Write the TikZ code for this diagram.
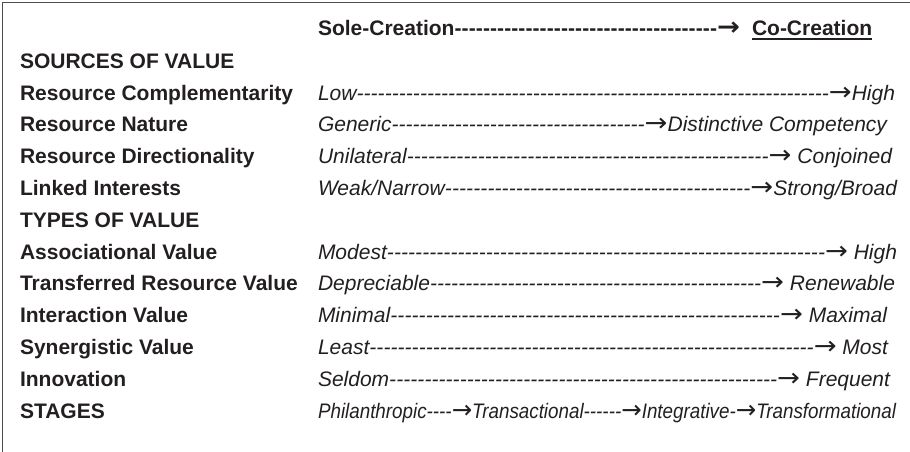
\documentclass[tikz,border=0pt]{standalone}
\usepackage{fontspec}
\usepackage{graphicx}
\setmainfont{Liberation Sans}[Ligatures=TeXOff]
\newfontfamily\arrowfont{DejaVu Sans}
\definecolor{ink}{HTML}{231F20}
\newcommand{\arw}{\scalebox{1.3}[1.2]{\arrowfont\symbol{"2192}}}
\newcommand{\valrow}[4]{\hbox to #1{\itshape #2\xleaders\hbox{-}\hfill\arw#3#4}}
\begin{document}
\begin{tikzpicture}[x=1pt,y=-1pt,
  every node/.style={inner sep=0pt, outer sep=0pt, anchor=base west, text=ink,
    font=\fontsize{21}{25}\selectfont},
  lab/.style={font=\fontsize{21}{25}\selectfont\bfseries},
  val/.style={font=\fontsize{21}{25}\selectfont\itshape},
  frameline/.style={line width=1.2pt, draw=ink!80},
  uline/.style={line width=1.4pt, draw=ink}]
\useasboundingbox (0,0) rectangle (910,452);
\draw[frameline] (2.5,452) -- (2.5,2.5) -- (910,2.5);
% header
\node (sole) at (318,36) {\bfseries\hbox to 422pt{Sole-Creation\xleaders\hbox{-}\hfill\arw}};
\node (co) at (752,36) {\bfseries Co-Creation};
\draw[uline] ([yshift=-3pt]co.base west) -- ([yshift=-3pt]co.base east);
% left labels
\node[lab] (l1) at (20,68) {SOURCES OF VALUE};
\node[lab] (l2) at (20,100) {Resource Complementarity};
\node[lab] (l3) at (20,131) {Resource Nature};
\node[lab] (l4) at (20,163) {Resource Directionality};
\node[lab] (l5) at (20,195) {Linked Interests};
\node[lab] (l6) at (20,227) {TYPES OF VALUE};
\node[lab] (l7) at (20,259) {Associational Value};
\node[lab] (l8) at (20,290) {Transferred Resource Value};
\node[lab] (l9) at (20,322) {Interaction Value};
\node[lab] (l10) at (20,354) {Synergistic Value};
\node[lab] (l11) at (20,386) {Innovation};
\node[lab] (l12) at (20,418) {STAGES};
% right values
\node[val] (r2) at (318,100) {\valrow{577pt}{Low}{}{High}};
\node[val] (r3) at (318,131) {\valrow{569pt}{Generic}{}{Distinctive Competency}};
\node[val] (r4) at (318,163) {\valrow{574pt}{Unilateral}{\ }{Conjoined}};
\node[val] (r5) at (318,195) {\valrow{579pt}{Weak/Narrow}{}{Strong/Broad}};
\node[val] (r7) at (318,259) {\valrow{579pt}{Modest}{\ }{High}};
\node[val] (r8) at (318,290) {\valrow{577pt}{Depreciable}{\ }{Renewable}};
\node[val] (r9) at (318,322) {\valrow{569pt}{Minimal}{\ }{Maximal}};
\node[val] (r10) at (318,354) {\valrow{570pt}{Least}{\ }{Most}};
\node[val] (r11) at (318,386) {\valrow{572pt}{Seldom}{\ }{Frequent}};
\node[val] (r12) at (318,418) {\resizebox{578pt}{\height}{\itshape Philanthropic----\arw Transactional------\arw Integrative-\arw Transformational}};
\end{tikzpicture}
\end{document}
